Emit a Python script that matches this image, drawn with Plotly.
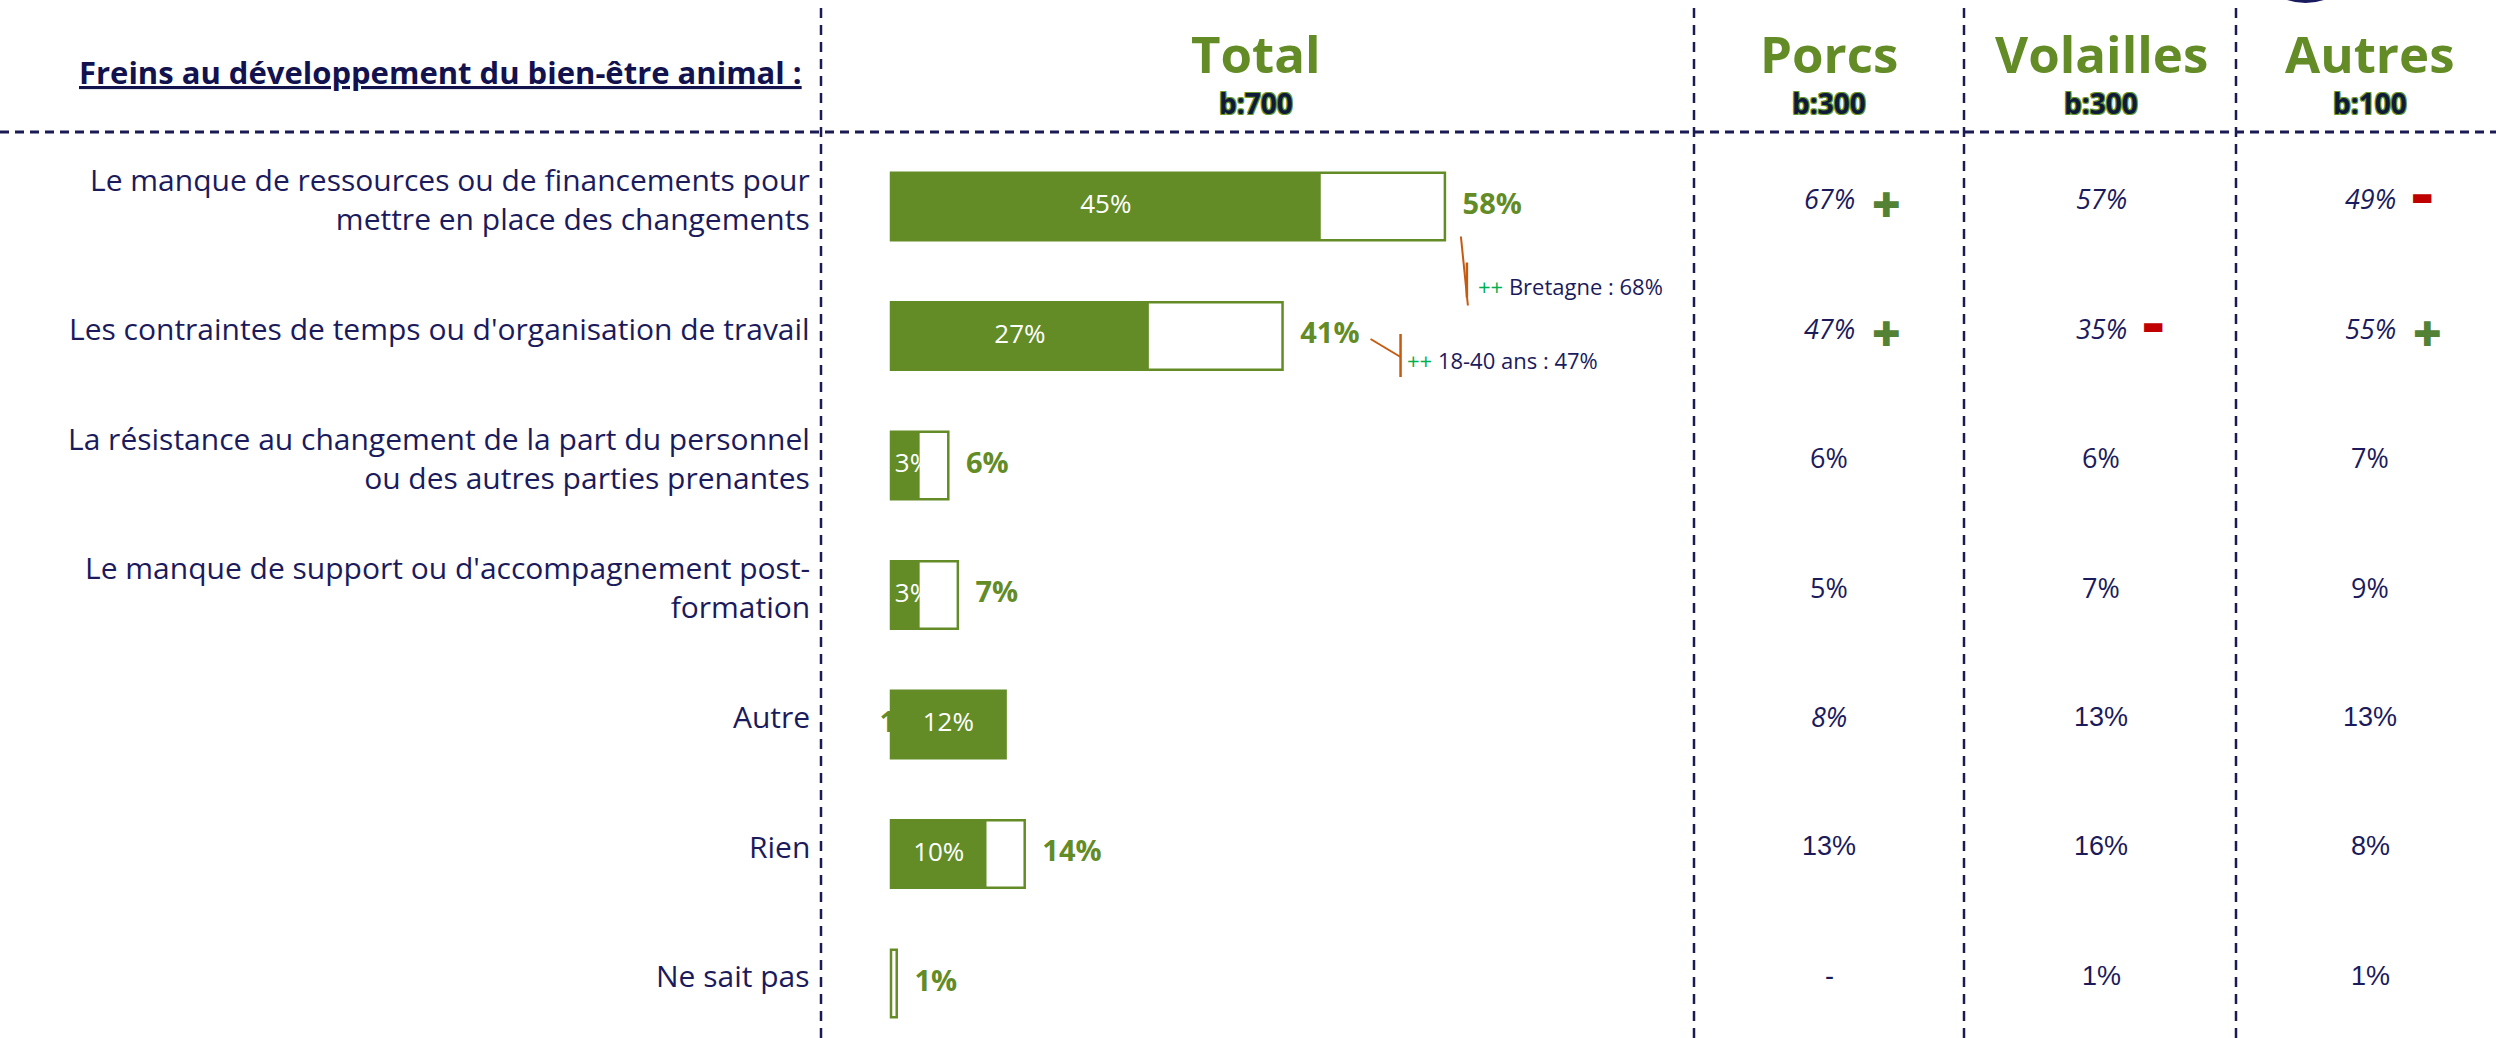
import plotly.graph_objects as go

# ---------------- data ----------------
categories = [
    "Le manque de ressources ou de financements pour<br>mettre en place des changements",
    "Les contraintes de temps ou d'organisation de travail",
    "La résistance au changement de la part du personnel<br>ou des autres parties prenantes",
    "Le manque de support ou d'accompagnement post-<br>formation",
    "Autre",
    "Rien",
    "Ne sait pas",
]
total_first = [45, 27, 3, 3, 12, 10, 0]        # darker part (1er rang)
total_all = [58, 41, 6, 7, 12, 14, 0.6]        # total (ensemble)
porcs = [67, 47, 6, 5, 8, 13, None]
volailles = [57, 35, 6, 7, 13, 16, 1]
autres = [49, 55, 7, 9, 13, 8, 1]
porcs_sig = ["+", "+", "", "", "", "", ""]
volailles_sig = ["", "-", "", "", "", "", ""]
autres_sig = ["-", "+", "", "", "", "", ""]
columns = ["Total", "Porcs", "Volailles", "Autres"]
bases = ["b:700", "b:300", "b:300", "b:100"]
title_text = "Freins au développement du bien-être animal :"
callout_rows = [0, 1]
callout_texts = ["Bretagne : 68%", "18-40 ans : 47%"]

# ---------------- geometry / style ----------------
W, H = 2496, 1038
X0PX, PXPER = 891, 9.55
ROW0, ROWH = 206.5, 129.5
GREEN = "#638c27"
NAVY = "#1b1b5c"
DASH = "#1a1a55"
ORANGE = "#c55a11"
FONT = "Open Sans"

def px(x):
    return x / W

def py(y):
    return 1 - y / H

xr = [-X0PX / PXPER, (W - X0PX) / PXPER]
yr = [(H - ROW0) / ROWH, -ROW0 / ROWH]
rows = list(range(len(categories)))

fig = go.Figure()

# total labels (base subplot, drawn beneath the bars)
lab_x, lab_t = [], []
for f, t in zip(total_first, total_all):
    lab_t.append(f"<b>{round(t)}%</b>")
    lab_x.append(t + 1.85 if t > f else -1.2)
fig.add_trace(go.Scatter(x=lab_x, y=rows, mode="text", text=lab_t,
                         textposition="middle right",
                         textfont=dict(family=FONT, size=29, color=GREEN),
                         xaxis="x", yaxis="y", hoverinfo="skip", showlegend=False))

# bars (overlay subplot, drawn above)
fig.add_trace(go.Bar(x=total_all, y=rows, orientation="h", width=0.52,
                     marker=dict(color="white", line=dict(color=GREEN, width=2.5)),
                     xaxis="x2", yaxis="y2", hoverinfo="skip", showlegend=False))
fig.add_trace(go.Bar(x=total_first, y=rows, orientation="h", width=0.52,
                     marker=dict(color=GREEN, line=dict(width=0)),
                     xaxis="x2", yaxis="y2", hoverinfo="skip", showlegend=False))
in_x = [f / 2 + (0.8 if f < 5 else 0) for f in total_first]
in_t = [f"{f}%" if f > 0 else "" for f in total_first]
fig.add_trace(go.Scatter(x=in_x, y=rows, mode="text", text=in_t,
                         textposition="middle center",
                         textfont=dict(family=FONT, size=26, color="white"),
                         xaxis="x2", yaxis="y2", hoverinfo="skip", showlegend=False,
                         cliponaxis=False))

ax_common = dict(visible=False, showgrid=False, zeroline=False, fixedrange=True)
fig.update_layout(
    width=W, height=H,
    margin=dict(l=0, r=0, t=0, b=0),
    paper_bgcolor="white", plot_bgcolor="rgba(0,0,0,0)",
    barmode="overlay",
    xaxis=dict(domain=[0, 1], range=xr, **ax_common),
    yaxis=dict(domain=[0, 1], range=yr, **ax_common),
    xaxis2=dict(overlaying="x", range=xr, **ax_common),
    yaxis2=dict(overlaying="y", range=yr, **ax_common),
    showlegend=False,
)

shapes = []
# dashed separators
for xv in [821, 1694, 1964, 2236]:
    shapes.append(dict(type="line", xref="paper", yref="paper",
                       x0=px(xv), x1=px(xv), y0=py(8), y1=py(H),
                       line=dict(color=DASH, width=2.5, dash="10px,7px")))
shapes.append(dict(type="line", xref="paper", yref="paper",
                   x0=0, x1=1, y0=py(132), y1=py(132),
                   line=dict(color=DASH, width=3, dash="9px,6px")))
# partial logo circle top right
shapes.append(dict(type="circle", xref="paper", yref="paper",
                   x0=px(2247), x1=px(2364), y0=py(3), y1=py(-114),
                   fillcolor="#1a1a5e", line=dict(width=0)))

# callout lines (anchored on the total value of the row)
callout_geom = [
    # (slanted line dx0,dy0,dx1,dy1), (vertical bar dx, dy0, dy1), text (dx, dy)
    ((16, 30, 23, 99), (22, 56, 91), (31, 79)),
    ((88, 3, 118, 21), (118, -2, 41), (122, 24)),
]
annotations = []
for r, txt, g in zip(callout_rows, callout_texts, callout_geom):
    (a0, b0, a1, b1), (vx, v0, v1), (tx, ty) = g
    xv = total_all[r]
    shapes.append(dict(type="line", xref="x", yref="y", xsizemode="pixel", ysizemode="pixel",
                       xanchor=xv, yanchor=r, x0=a0, x1=a1, y0=-b0, y1=-b1,
                       line=dict(color=ORANGE, width=2)))
    shapes.append(dict(type="line", xref="x", yref="y", xsizemode="pixel", ysizemode="pixel",
                       xanchor=xv, yanchor=r, x0=vx, x1=vx, y0=-v0, y1=-v1,
                       line=dict(color=ORANGE, width=2.5)))
    annotations.append(dict(x=xv, y=r, xref="x", yref="y", xanchor="left", yanchor="middle",
                            xshift=tx, yshift=-ty, showarrow=False,
                            text=f"<span style='color:#00b050'>++</span> {txt}",
                            font=dict(family=FONT, size=22, color=NAVY)))

# title
annotations.append(dict(x=px(804), y=py(72), xref="paper", yref="paper",
                        xanchor="right", yanchor="middle", showarrow=False,
                        text=f"<b>{title_text}</b>",
                        font=dict(family=FONT, size=31, color="#12124f", lineposition="under")))

# column headers
col_centers = [1256, 1829, 2101, 2370]
for c, b, cx in zip(columns, bases, col_centers):
    annotations.append(dict(x=px(cx), y=py(53), xref="paper", yref="paper",
                            xanchor="center", yanchor="middle", showarrow=False,
                            text=f"<b>{c}</b>",
                            font=dict(family=FONT, size=51, color=GREEN)))
    annotations.append(dict(x=px(cx), y=py(103), xref="paper", yref="paper",
                            xanchor="center", yanchor="middle", showarrow=False,
                            text=f"<b>{b}</b>",
                            font=dict(family=FONT, size=28, color="#0f1a3a",
                                      shadow="1px 1px 0 #6b9a2c, -1px -1px 0 #6b9a2c, 1px -1px 0 #6b9a2c, -1px 1px 0 #6b9a2c")))

# row labels
for r, lab in enumerate(categories):
    annotations.append(dict(x=px(812), y=r, xref="paper", yref="y",
                            xanchor="right", yanchor="middle", align="right",
                            yshift=8, showarrow=False, text=lab,
                            font=dict(family=FONT, size=30, color=NAVY)))

# group columns
italic_rows = {0, 1}
for vals, sigs, cx in zip([porcs, volailles, autres],
                          [porcs_sig, volailles_sig, autres_sig],
                          col_centers[1:]):
    for r, (v, s) in enumerate(zip(vals, sigs)):
        t = "-" if v is None else f"{v}%"
        arial = r >= 5 or (r == 4 and cx != col_centers[1])
        style = "italic" if (r in italic_rows or (r == 4 and not arial)) else "normal"
        annotations.append(dict(x=px(cx), y=r, xref="paper", yref="y",
                                xanchor="center", yanchor="middle", yshift=8,
                                showarrow=False, text=t,
                                font=dict(family="Liberation Sans" if arial else FONT,
                                          size=27, color=NAVY, style=style)))
        if s == "+":
            annotations.append(dict(x=px(cx + 57), y=r, xref="paper", yref="y",
                                    xanchor="center", yanchor="middle", yshift=2,
                                    showarrow=False, text="✚",
                                    font=dict(family="DejaVu Sans", size=34, color="#548235")))
        elif s == "-":
            annotations.append(dict(x=px(cx + 52), y=r, xref="paper", yref="y",
                                    xanchor="center", yanchor="middle", yshift=10,
                                    showarrow=False, text="▬",
                                    font=dict(family="DejaVu Sans", size=24, color="#c00000")))

fig.update_layout(shapes=shapes, annotations=annotations)
fig.write_html("out.html", config={"displayModeBar": False},
               post_script="document.body.style.margin='0px';")
